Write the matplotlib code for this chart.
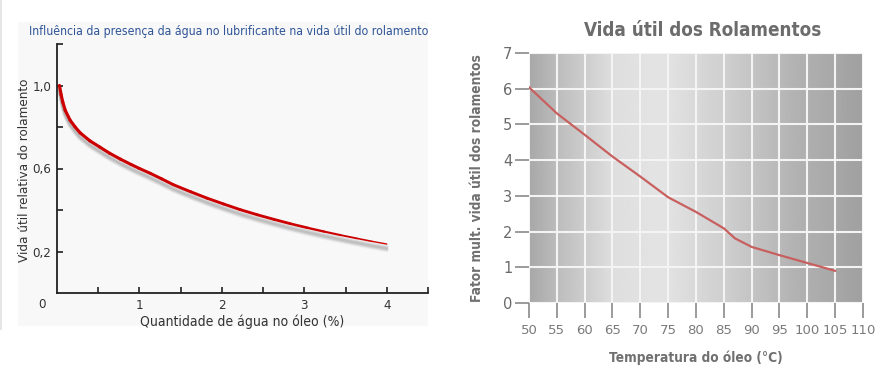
import matplotlib
matplotlib.use("Agg")
import matplotlib.pyplot as plt
import matplotlib.transforms as mtransforms
from matplotlib.collections import LineCollection
from matplotlib.patches import Rectangle
import numpy as np

# left chart: water content (%) vs relative bearing life
agua_pct = [0.03, 0.05, 0.07, 0.1, 0.16, 0.22, 0.28, 0.4, 0.52, 0.64, 0.77, 0.9, 1.0,
            1.13, 1.27, 1.41, 1.62, 1.82, 2.02, 2.22, 2.43, 2.63, 2.83, 3.04, 3.24,
            3.44, 3.64, 3.82, 4.0]
vida_rel = [1.0, 0.955, 0.92, 0.88, 0.832, 0.80, 0.772, 0.733, 0.703, 0.673, 0.645, 0.619, 0.600,
            0.577, 0.550, 0.522, 0.488, 0.457, 0.429, 0.402, 0.377, 0.355, 0.334, 0.314, 0.296,
            0.279, 0.263, 0.249, 0.236]

# right chart: oil temperature vs life multiplier
temp_oleo = [50, 55, 60, 65, 70, 75, 80, 85, 87, 90, 95, 100, 105]
fator_vida = [6.04, 5.31, 4.71, 4.10, 3.54, 2.96, 2.55, 2.09, 1.81, 1.57, 1.34, 1.12, 0.90]

W, H = 887, 383
fig = plt.figure(figsize=(W / 100, H / 100), dpi=100)
fig.patch.set_facecolor("white")
cond = dict(family="DejaVu Sans", fontstretch="condensed")

# faint panel behind left chart
bg = fig.add_axes([0, 0, 1, 1], zorder=-5)
bg.set_axis_off()
bg.set_xlim(0, W)
bg.set_ylim(H, 0)
bg.add_patch(Rectangle((18, 22), 410, 304, facecolor="#f8f8f8", edgecolor="none"))
bg.add_patch(Rectangle((0, 0), 2, 330, facecolor="#e6e6e6", edgecolor="none"))

# ---------------- left chart ----------------
ax1 = fig.add_axes([57 / W, 1 - 293 / H, (428 - 57) / W, (293 - 44) / H], zorder=2)
ax1.set_facecolor("none")
ax1.set_xlim(0, 4.5)
ax1.set_ylim(0, 1.2)
for s in ["top", "right"]:
    ax1.spines[s].set_visible(False)
for s in ["left", "bottom"]:
    ax1.spines[s].set_color("#222222")
    ax1.spines[s].set_linewidth(1.3)

# blurred gray shadow under the curve
for off, a in [(2.5, 0.06), (3.5, 0.10), (4.5, 0.13), (5.5, 0.10), (6.5, 0.06)]:
    tr = mtransforms.offset_copy(ax1.transData, fig=fig, x=0, y=-off * 0.72, units="points")
    ax1.plot(agua_pct, vida_rel, color="#505050", lw=2.6, alpha=a, transform=tr,
             solid_capstyle="round", solid_joinstyle="round")

# red curve, tapering towards its end
pts = np.column_stack([agua_pct, vida_rel])
segs = np.stack([pts[:-1], pts[1:]], axis=1)
xm = (pts[:-1, 0] + pts[1:, 0]) / 2
widths = np.interp(xm, [0, 2.8, 4.0], [2.3, 2.0, 0.9])
ax1.add_collection(LineCollection(segs, linewidths=widths, colors="#cc0000",
                                  capstyle="round", joinstyle="round", zorder=3))

ax1.set_xticks([0.5, 1, 1.5, 2, 2.5, 3, 3.5, 4, 4.5])
ax1.set_xticklabels(["", "1", "", "2", "", "3", "", "4", ""])
ax1.set_yticks([0.2, 0.4, 0.6, 0.8, 1.0, 1.2])
ax1.set_yticklabels(["0,2", "", "0,6", "", "1,0", ""])
ax1.tick_params(direction="in", length=4, width=1.2, color="#222222", labelcolor="#333333",
                labelsize=9.5)
ax1.tick_params(axis="x", pad=4)
ax1.tick_params(axis="y", pad=4)
for lab in ax1.get_xticklabels() + ax1.get_yticklabels():
    lab.set_fontstretch("condensed")
ax1.text(-0.03, -0.02, "0", transform=ax1.transAxes, ha="right", va="top",
         fontsize=9.5, color="#333333", **cond)
ax1.set_xlabel("Quantidade de água no óleo (%)", fontsize=10, color="#333333",
               labelpad=2, **cond)
fig.text(25 / W, 1 - 170 / H, "Vida útil relativa do rolamento", rotation=90, ha="center",
         va="center", fontsize=9.6, color="#333333", **cond)
fig.text(229 / W, 1 - 31 / H, "Influência da presença da água no lubrificante na vida útil do rolamento",
         ha="center", va="center", fontsize=8.8, color="#2f5597", **cond)

# ---------------- right chart ----------------
ax2 = fig.add_axes([529 / W, 1 - 303 / H, 334 / W, 250 / H], zorder=2)
ax2.set_xlim(50, 110)
ax2.set_ylim(0, 7)
# horizontal gray gradient background
gx = np.linspace(0, 1, 300)
gv = np.interp(gx, [0, 0.1, 0.25, 0.4, 0.6, 0.8, 1.0], [168, 192, 222, 228, 205, 178, 160]) / 255
ax2.imshow(np.tile(gv, (2, 1)), cmap="gray", vmin=0, vmax=1, aspect="auto",
           extent=[50, 110, 0, 7], zorder=0, interpolation="bilinear")
ax2.set_xticks(range(50, 111, 5))
ax2.set_yticks(range(0, 8))
ax2.grid(True, color="#f4f4f4", lw=1.5, zorder=1)
for s in ax2.spines.values():
    s.set_visible(False)
ax2.plot(temp_oleo, fator_vida, color="#c86060", lw=1.6, zorder=3)
ax2.tick_params(axis="y", direction="out", length=10, width=1.2, color="#8a8a8a",
                labelcolor="#6a6a6a", labelsize=10.5, pad=2)
ax2.tick_params(axis="x", direction="out", length=11, width=1.2, color="#8a8a8a",
                labelcolor="#7a7a7a", labelsize=9.5, pad=4)
ax2.set_xlabel("Temperatura do óleo (°C)", fontsize=9.8, fontweight="bold", color="#707070",
               labelpad=10, **cond)
ax2.set_ylabel("Fator mult. vida útil dos rolamentos", fontsize=9.8, fontweight="bold",
               color="#707070", labelpad=14, **cond)
fig.text(703 / W, 1 - 30 / H, "Vida útil dos Rolamentos", ha="center", va="center",
         fontsize=13.5, fontweight="bold", color="#6c6c6c", **cond)

fig.savefig("out.png", dpi=100)
